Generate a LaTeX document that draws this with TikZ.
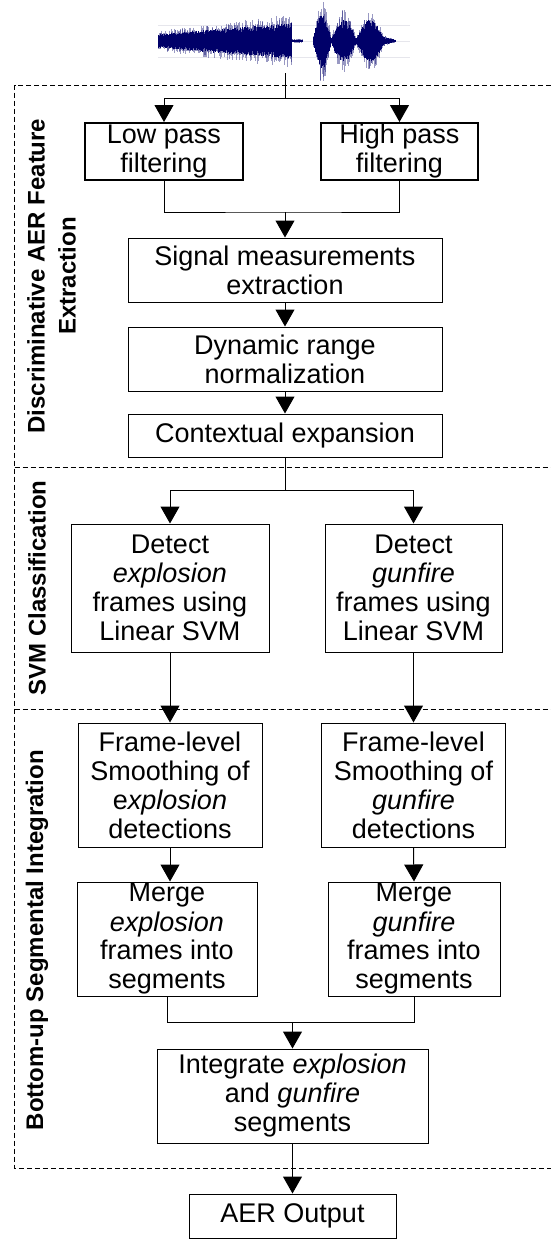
\documentclass[tikz,border=0pt]{standalone}
\usepackage{fontspec}
\setmainfont{Liberation Sans}
\usepackage{xcolor}
\definecolor{wavenavy}{RGB}{0,0,105}
\definecolor{gridgray}{RGB}{230,230,236}
\usetikzlibrary{arrows.meta, positioning, calc}

\tikzset{
  stagebox/.style={draw, line width=1pt, inner sep=0pt, align=center, font=\fontsize{27}{29}\selectfont},
  filterbox/.style={stagebox, line width=2pt},
  link/.style={line width=1pt},
  flow/.style={link, -{Triangle[width=19pt,length=17pt]}},
  stagelabel/.style={rotate=90, align=center, font=\fontsize{24}{31}\selectfont\bfseries},
  divider/.style={line width=0.8pt, dash pattern=on 5pt off 3pt},
}

\begin{document}
\begin{tikzpicture}[x=1pt, y=-1pt]
    \useasboundingbox (0,0) rectangle (551,1240);

    % input waveform
    \draw[gridgray, line width=0.6pt] (158,25) -- (410,25) (158,57) -- (410,57) (158,41) -- (410,41);
    \pgfmathsetseed{11}
    \foreach \x in {158,158.5,...,398} {
        \pgfmathsetmacro\env{(\x<292)*(7+11*(\x-158)/134) + (\x>=292)*(\x<303)*1.5
            + (\x>=313)*(\x<331)*(2+26*sin((\x-313)/18*180)) + (\x>=331)*(\x<356)*(2+19*sin((\x-331)/25*180))
            + (\x>=356)*(\x<384)*(2+19*sin((\x-356)/28*180)) + (\x>=384)*(\x<396)*(4-3*(\x-384)/12)}
        \pgfmathsetmacro\up{\env*(0.6+0.4*rnd)}
        \pgfmathsetmacro\dn{\env*(0.6+0.4*rnd)}
        \pgfmathsetmacro\upx{\env*(0.8+0.7*rnd^2)}
        \pgfmathsetmacro\dnx{\env*(0.8+0.7*rnd^2)}
        \draw[wavenavy, line width=0.6pt, opacity=0.4] (\x,41-\upx) -- (\x,41+\dnx);
        \draw[wavenavy, line width=0.8pt] (\x,41-\up) -- (\x,41+\dn);
    }
    \coordinate (wavebot) at (285,73);

    % stage borders
    \draw[divider] (551,85) -- (14.5,85) -- (14.5,1168) -- (551,1168);
    \draw[divider] (14.5,467) -- (551,467);
    \draw[divider] (14.5,709) -- (551,709);

    \node[stagelabel] (featlabel) at (51.5,276) {Discriminative AER Feature\\Extraction};
    \node[stagelabel] (svmlabel) at (37,588) {SVM Classification};
    \node[stagelabel] (seglabel) at (37,940) {Bottom-up Segmental Integration};

    % feature extraction
    \node[filterbox, minimum width=158pt, minimum height=57pt] (lowpass) at (164,151.5) {Low pass\\filtering};
    \node[filterbox, minimum width=157pt, minimum height=57pt] (highpass) at (399.5,151.5) {High pass\\filtering};
    \node[stagebox, minimum width=314pt, minimum height=64pt] (signal) at (285,270) {Signal measurements\\extraction};
    \node[stagebox, minimum width=314pt, minimum height=64pt] (dynamic) at (285,359) {Dynamic range\\normalization};
    \node[stagebox, minimum width=314pt, minimum height=43pt] (context) at (285,435.5) {Contextual expansion};

    % classification
    \node[stagebox, minimum width=198pt, minimum height=128pt] (svmexp) at (170,588) {Detect\\\textit{explosion}\\frames using\\Linear SVM};
    \node[stagebox, minimum width=177pt, minimum height=128pt] (svmgun) at (413.5,588) {Detect\\\textit{gunfire}\\frames using\\Linear SVM};

    % segmental integration
    \node[stagebox, minimum width=184pt, minimum height=124pt] (smoothexp) at (170,785) {Frame-level\\Smoothing of\\e\textit{xplosion}\\detections};
    \node[stagebox, minimum width=184pt, minimum height=124pt] (smoothgun) at (413.5,785) {Frame-level\\Smoothing of\\\textit{gunfire}\\detections};
    \node[stagebox, minimum width=180pt, minimum height=114pt] (mergeexp) at (167,939) {Merge\\\textit{explosion}\\frames into\\segments};
    \node[stagebox, minimum width=172pt, minimum height=114pt] (mergegun) at (414,939) {Merge\\\textit{gunfire}\\frames into\\segments};
    \node[stagebox, minimum width=271pt, minimum height=94pt] (integrate) at (292.5,1096) {Integrate \textit{explosion}\\and \textit{gunfire}\\segments};

    \node[stagebox, minimum width=207pt, minimum height=44pt] (output) at (292.5,1216) {AER Output};

    % connectors
    \coordinate (split1) at (285,98);
    \coordinate (join1) at (285,212);
    \coordinate (split2) at (285,490);
    \coordinate (join2) at (292.5,1022);
    \draw[link] (wavebot) -- (split1);
    \draw[flow] (split1) -| (lowpass.north);
    \draw[flow] (split1) -| (highpass.north);
    \draw[link] (lowpass.south) |- (join1) -| (highpass.south);
    \draw[flow] (join1) -- (signal.north);
    \draw[flow] (signal.south) -- (dynamic.north);
    \draw[flow] (dynamic.south) -- (context.north);
    \draw[link] (context.south) -- (split2);
    \draw[flow] (split2) -| (svmexp.north);
    \draw[flow] (split2) -| (svmgun.north);
    \draw[flow] (svmexp.south) -- (smoothexp.north);
    \draw[flow] (svmgun.south) -- (smoothgun.north);
    \draw[flow] (smoothexp.south) -- (smoothexp.south |- mergeexp.north);
    \draw[flow] (smoothgun.south) -- (mergegun.north);
    \draw[link] (mergeexp.south) |- (join2) -| (mergegun.south);
    \draw[flow] (join2) -- (integrate.north);
    \draw[flow] (integrate.south) -- (output.north);
\end{tikzpicture}
\end{document}
